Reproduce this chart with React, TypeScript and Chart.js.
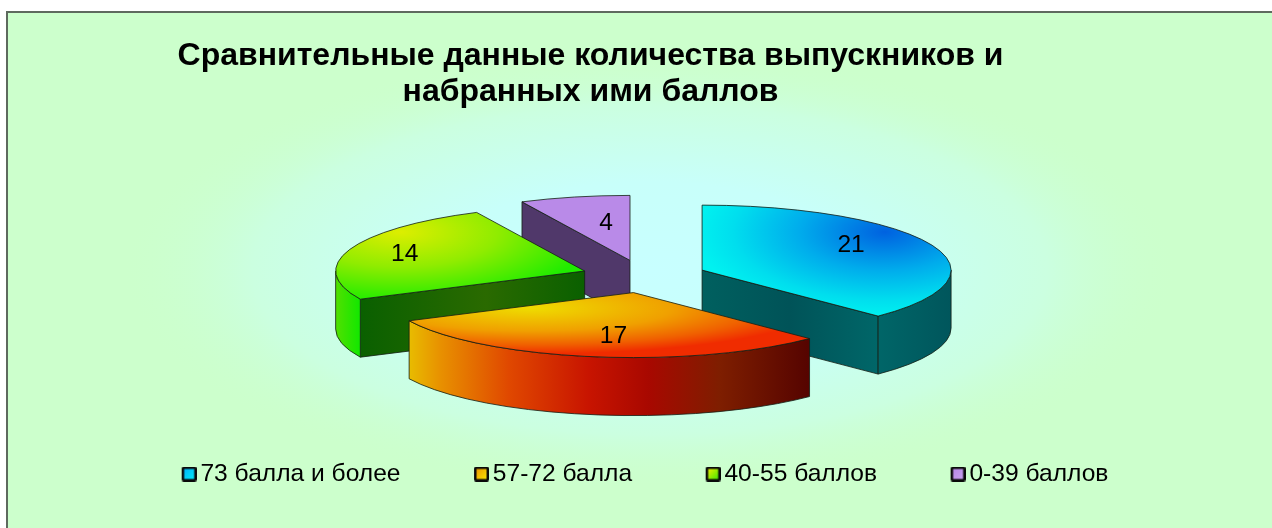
import React, { useEffect, useRef } from "react";
import { Chart, registerables } from "chart.js";

Chart.register(...registerables);

const categories = ["73 балла и более", "57-72 балла", "40-55 баллов", "0-39 баллов"];
const graduates = [21, 17, 14, 4];
const titleLines = ["Сравнительные данные количества выпускников и", "набранных ими баллов"];

// Projection of the flat pie on to the tilted plane
const WIDTH = 1272;
const HEIGHT = 528;
const BASE_RADIUS = 100;
const EXPLODE = 101;
const CX = 644;
const CY = 276.4;
const RX = 249;
const RY = 65;
const DEPTH = 58;
const DRAW_ORDER = [3, 2, 0, 1];
const LABEL_SHIFT = [[149, -25], [-20, 44], [-180, -17], [-24, -37]];
const FONT = '"Liberation Sans", Arial, sans-serif';

type G = CanvasGradient;
function ellipseGradient(ctx: CanvasRenderingContext2D, x: number, y: number, sx: number, sy: number, stops: [number, string][]) {
  const g = ctx.createRadialGradient(0, 0, 0, 0, 0, 1);
  stops.forEach(([o, c]) => g.addColorStop(o, c));
  return { g, x, y, sx, sy };
}
function linear(ctx: CanvasRenderingContext2D, x0: number, x1: number, stops: [number, string][]): G {
  const g = ctx.createLinearGradient(x0, 0, x1, 0);
  stops.forEach(([o, c]) => g.addColorStop(o, c));
  return g;
}

function fillEllipseGrad(ctx: CanvasRenderingContext2D, e: ReturnType<typeof ellipseGradient>) {
  ctx.save();
  ctx.clip();
  ctx.translate(e.x, e.y);
  ctx.scale(e.sx, e.sy);
  ctx.fillStyle = e.g;
  ctx.fillRect(-20, -20, 40, 40);
  ctx.restore();
}

function topStyle(ctx: CanvasRenderingContext2D, i: number) {
  if (i === 0) return ellipseGradient(ctx, 885, 232, 190, 85, [[0, "#0062E0"], [0.45, "#00ACEC"], [0.8, "#00DEEE"], [1, "#00F2F0"]]);
  if (i === 1) return ellipseGradient(ctx, 530, 308, 285, 46, [[0, "#EEDD00"], [0.5, "#F0A000"], [0.8, "#F06000"], [1, "#F02C00"]]);
  if (i === 2) return ellipseGradient(ctx, 400, 232, 195, 70, [[0, "#DDEE00"], [0.5, "#90EC00"], [1, "#20EC00"]]);
  return ellipseGradient(ctx, 580, 230, 400, 400, [[0, "#B98AE8"], [1, "#B98AE8"]]);
}
function sideStyle(ctx: CanvasRenderingContext2D, i: number): G {
  if (i === 0) return linear(ctx, 702, 951, [[0, "#00605F"], [0.35, "#005358"], [0.7, "#006668"], [1, "#00565C"]]);
  if (i === 1) return linear(ctx, 409, 808, [[0, "#E8BC00"], [0.08, "#E89000"], [0.25, "#E04800"], [0.45, "#C81400"], [0.6, "#A80800"], [0.78, "#7E1E00"], [1, "#560400"]]);
  if (i === 2) return linear(ctx, 336, 585, [[0, "#50E000"], [0.1, "#10E800"], [0.101, "#0A6000"], [0.6, "#2A6A00"], [1, "#0A6000"]]);
  return linear(ctx, 522, 630, [[0, "#50386A"], [1, "#50386A"]]);
}

const pie3d = {
  id: "pie3d",
  beforeDraw(chart: any) {
    const { ctx } = chart;
    ctx.save();
    ctx.fillStyle = "#FFFFFF";
    ctx.fillRect(0, 0, WIDTH, HEIGHT);
    ctx.fillStyle = "#CCFFCC";
    ctx.fillRect(6, 11, WIDTH - 6, HEIGHT - 11);
    ctx.beginPath();
    ctx.rect(6, 11, WIDTH - 6, HEIGHT - 11);
    const bg = ellipseGradient(ctx, 650, 270, 530, 220, [[0, "#C8FFFF"], [0.4, "#C8FFFA"], [0.75, "#CBFFE0"], [1, "rgba(204,255,204,0)"]]);
    fillEllipseGrad(ctx, bg);
    ctx.fillStyle = "#5E6A5E";
    ctx.fillRect(6, 11, 2, HEIGHT - 11);
    ctx.fillRect(6, 11, WIDTH - 6, 2);
    ctx.restore();
  },
  afterLayout(chart: any) {
    chart.titleBlock.left = 0;
    chart.titleBlock.right = 1181;
    chart.legend.top = 383.7;
  },
  beforeDatasetDraw() {
    return false;
  },
  afterDatasetsDraw(chart: any) {
    const { ctx } = chart;
    const arcs = chart.getDatasetMeta(0).data;
    const kx = RX / BASE_RADIUS;
    const ky = RY / BASE_RADIUS;
    ctx.save();
    ctx.lineWidth = 1;
    ctx.strokeStyle = "rgba(20,30,20,0.8)";
    ctx.lineJoin = "round";
    DRAW_ORDER.forEach((i) => {
      const arc = arcs[i];
      const a = arc.startAngle;
      const b = arc.endAngle;
      const r = arc.outerRadius;
      const mid = (a + b) / 2;
      const off = arc.options.offset / 4;
      const ax = CX + Math.cos(mid) * off * kx;
      const ay = CY + Math.sin(mid) * off * ky;
      const rx = r * kx;
      const ry = r * ky;
      const pt = (t: number) => [ax + Math.cos(t) * rx, ay + Math.sin(t) * ry];
      const side = sideStyle(ctx, i);

      const face = (t: number) => {
        const [x, y] = pt(t);
        ctx.beginPath();
        ctx.moveTo(ax, ay);
        ctx.lineTo(x, y);
        ctx.lineTo(x, y + DEPTH);
        ctx.lineTo(ax, ay + DEPTH);
        ctx.closePath();
        ctx.fillStyle = side;
        ctx.fill();
        ctx.stroke();
      };
      if (-Math.cos(a) > 0.01) face(a);
      if (Math.cos(b) > 0.01) face(b);

      const r0 = Math.max(a, 0);
      const r1 = Math.min(b, Math.PI);
      if (r1 > r0) {
        ctx.beginPath();
        ctx.ellipse(ax, ay, rx, ry, 0, r0, r1);
        ctx.ellipse(ax, ay + DEPTH, rx, ry, 0, r1, r0, true);
        ctx.closePath();
        ctx.fillStyle = side;
        ctx.fill();
        ctx.stroke();
      }

      const top = () => {
        ctx.beginPath();
        ctx.moveTo(ax, ay);
        ctx.ellipse(ax, ay, rx, ry, 0, a, b);
        ctx.closePath();
      };
      top();
      fillEllipseGrad(ctx, topStyle(ctx, i));
      top();
      ctx.stroke();
    });
    ctx.fillStyle = "#000000";
    ctx.font = `24.6px ${FONT}`;
    ctx.textAlign = "center";
    ctx.textBaseline = "middle";
    arcs.forEach((arc: any, i: number) => {
      const mid = (arc.startAngle + arc.endAngle) / 2;
      const off = arc.options.offset / 4;
      const ax = CX + Math.cos(mid) * off * kx;
      const ay = CY + Math.sin(mid) * off * ky;
      ctx.fillText(String(graduates[i]), ax + LABEL_SHIFT[i][0], ay + LABEL_SHIFT[i][1]);
    });
    ctx.restore();
  },
};

function legendSwatch(from: string, to: string) {
  const c = document.createElement("canvas");
  c.width = 19;
  c.height = 15;
  const x = c.getContext("2d")!;
  x.fillStyle = "#0A0A0A";
  x.beginPath();
  x.roundRect(4, 0, 15, 15, 2);
  x.fill();
  const g = x.createLinearGradient(7, 3, 16, 12);
  g.addColorStop(0, from);
  g.addColorStop(1, to);
  x.fillStyle = g;
  x.fillRect(6.5, 2.5, 10, 10);
  return c;
}

export default function App() {
  const ref = useRef<HTMLCanvasElement>(null);
  useEffect(() => {
    const swatches = [
      legendSwatch("#00B8F8", "#00E8F8"),
      legendSwatch("#F0A000", "#F8E000"),
      legendSwatch("#E0EE00", "#50E800"),
      legendSwatch("#B98AE8", "#C8A0F0"),
    ];
    const chart = new Chart(ref.current!, {
      type: "pie",
      data: {
        labels: categories,
        datasets: [
          {
            data: graduates,
            backgroundColor: ["#00C8EE", "#F09000", "#80EC00", "#B98AE8"],
            offset: EXPLODE,
            radius: BASE_RADIUS,
          } as any,
        ],
      },
      options: {
        responsive: false,
        animation: false,
        radius: BASE_RADIUS,
        layout: { padding: { left: 22.5, right: 0, top: 0, bottom: 0 } },
        plugins: {
          title: {
            display: true,
            text: titleLines,
            color: "#000000",
            font: { family: FONT, size: 32, weight: "bold", lineHeight: 1.125 },
            padding: { top: 38, bottom: 10 },
          },
          legend: {
            position: "bottom",
            labels: {
              color: "#000000",
              font: { family: FONT, size: 24.6 },
              padding: 78,
              usePointStyle: true,
              boxWidth: 2,
              pointStyleWidth: 2,
              generateLabels: () =>
                categories.map((text, index) => ({
                  text,
                  index,
                  fontColor: "#000000",
                  pointStyle: swatches[index],
                  lineWidth: 0,
                  hidden: false,
                })),
            },
          },
          tooltip: { enabled: false },
        },
      } as any,
      plugins: [pie3d as any],
    });
    return () => chart.destroy();
  }, []);
  return (
    <div style={{ position: "fixed", left: 0, top: 0, width: WIDTH, height: HEIGHT, overflow: "hidden" }}>
      <canvas ref={ref} width={WIDTH} height={HEIGHT} style={{ display: "block" }} />
    </div>
  );
}
